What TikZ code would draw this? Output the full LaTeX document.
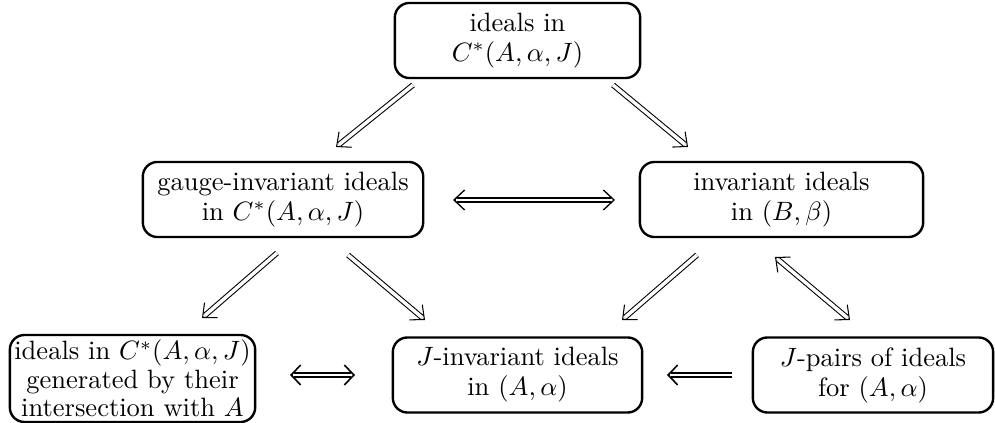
\documentclass[tikz,border=0pt]{standalone}
\usetikzlibrary{arrows.meta,calc}
\newcommand\myarrowone[4]{%
  \draw[#1, shorten >=1.5pt] (#3) -- (#4);
  \draw[#2] ($(#4)!0.6pt!(#3)$) -- (#4);
}
\newcommand\myarrowtwo[4]{%
  \draw[#1, shorten >=1.5pt, shorten <=1.5pt] (#3) -- (#4);
  \draw[#2] ($(#4)!0.6pt!(#3)$) -- (#4);
  \draw[#2] ($(#3)!0.6pt!(#4)$) -- (#3);
}
\begin{document}
\begin{tikzpicture}[x=0.377pt,y=-0.377pt,
  box/.style={draw, line width=0.9pt, rounded corners=5.5pt, align=center,
    inner sep=2pt, minimum height=28.3pt, font=\fontsize{10}{11.3}\selectfont},
  dline/.style={double, double distance=1.3pt, line width=0.4pt},
  dhead/.style={line width=0.4pt, -{Straight Barb[length=4.2pt, width=7.5pt]}},
  hline/.style={double, double distance=1.1pt, line width=0.5pt},
  hhead/.style={line width=0.5pt, -{Straight Barb[length=4pt, width=7.5pt]}},
  tline/.style={double, double distance=1.0pt, line width=0.75pt},
  thead/.style={line width=0.6pt, -{Straight Barb[length=3.6pt, width=7.5pt]}},
]
\useasboundingbox (0,0) rectangle (995,423);

\node[box, minimum width=92.5pt] (t) at (517.5,40.5) {ideals in\\ $C^*(A,\alpha,J)$};
\node[box, minimum width=105.7pt] (g) at (283,199.5) {gauge-invariant ideals\\ in $C^*(A,\alpha,J)$};
\node[box, minimum width=106.8pt] (inv) at (781.5,199.5) {invariant ideals\\ in $(B,\beta)$};
\node[box, minimum width=92.5pt, minimum height=32.8pt, inner sep=1pt,
  font=\fontsize{10}{10.8}\selectfont] (bl) at (132.5,378.5)
  {ideals in $C^*(A,\alpha,J)$\\ generated by their\\ intersection with $A$};
\node[box, minimum width=94pt] (ji) at (517.5,375) {$J$-invariant ideals\\ in $(A,\alpha)$};
\node[box, minimum width=90.6pt] (jp) at (873,375) {$J$-pairs of ideals\\ for $(A,\alpha)$};

% arrow end points, placed relative to the nodes they join
\coordinate (a1s) at ([shift={(-104.5,44.5)}]t.center);
\coordinate (a1e) at ([shift={(53,-52.5)}]g.center);
\coordinate (a2s) at ([shift={(95.5,44.5)}]t.center);
\coordinate (a2e) at ([shift={(-93.5,-52.5)}]inv.center);
\coordinate (a3s) at ([shift={(170,0.5)}]g.center);
\coordinate (a3e) at ([shift={(-166.5,0.5)}]inv.center);
\coordinate (a4s) at ([shift={(-6,53.5)}]g.center);
\coordinate (a4e) at ([shift={(69.5,-60.5)}]bl.center);
\coordinate (a5s) at ([shift={(65,55.5)}]g.center);
\coordinate (a5e) at ([shift={(-92.5,-55)}]ji.center);
\coordinate (a6s) at ([shift={(-84.5,55.5)}]inv.center);
\coordinate (a6e) at ([shift={(104.5,-55)}]ji.center);
\coordinate (a7s) at ([shift={(-6.5,57.5)}]inv.center);
\coordinate (a7e) at ([shift={(-23,-55)}]jp.center);
\coordinate (a8s) at ([shift={(157.5,-3.5)}]bl.center);
\coordinate (a8e) at ([shift={(-162.5,0)}]ji.center);
\coordinate (a9s) at ([shift={(-141,0)}]jp.center);
\coordinate (a9e) at ([shift={(149.5,0)}]ji.center);

\myarrowone{dline}{dhead}{a1s}{a1e}
\myarrowone{dline}{dhead}{a2s}{a2e}
\myarrowtwo{hline}{hhead}{a3s}{a3e}
\myarrowone{dline}{dhead}{a4s}{a4e}
\myarrowone{dline}{dhead}{a5s}{a5e}
\myarrowone{dline}{dhead}{a6s}{a6e}
\myarrowtwo{dline}{dhead}{a7s}{a7e}
\myarrowtwo{tline}{thead}{a8s}{a8e}
\myarrowone{tline}{thead}{a9s}{a9e}
\end{tikzpicture}
\end{document}
